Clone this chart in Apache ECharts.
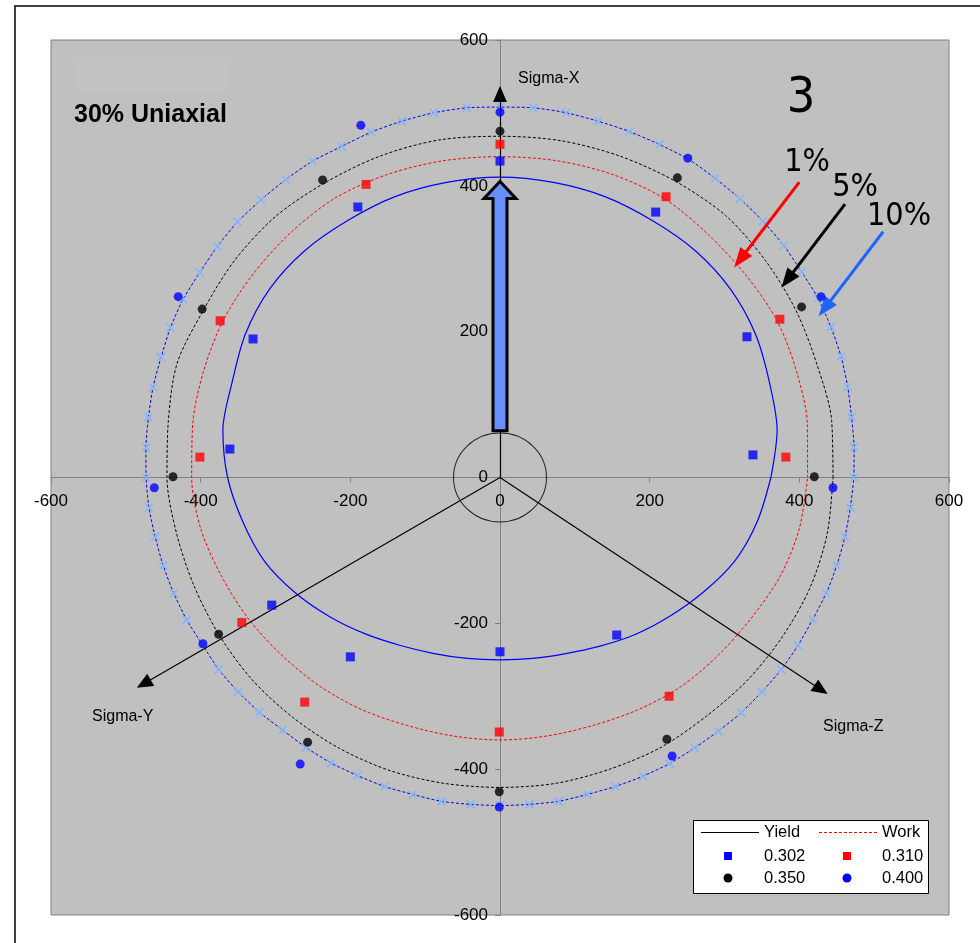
<!DOCTYPE html>
<html><head><meta charset="utf-8">
<script src="https://cdn.jsdelivr.net/npm/echarts@6/dist/echarts.min.js"></script>
<style>html,body{margin:0;padding:0;background:#fff}#c{width:980px;height:943px}</style>
</head><body><div id="c"></div>
<script>
// ---------- data ----------
const axisMin = -600, axisMax = 600, axisStep = 200;

// curve angles (degrees, counter-clockwise from +x) and radii
const angles10 = [0,10,20,30,40,50,60,70,80,90,100,110,120,130,140,150,160,170,180,190,200,210,220,230,240,250,260,270,280,290,300,310,320,330,340,350];
const yieldR   = [362,376,383,394,402,406,407,410,411,412,411,410,407,406,402,393,381,376,364,349,335,316,297,280,266,257,252,250,252,257,267,281,296,314,334,349];
const workR    = [411,417,422,428,430,434,441,442,441,440,441,442,442,437,432,428,422,417,412,406,396,388,380,374,368,362,360,360,360,362,368,375,380,387,398,406];
const pct5R    = [445,450,451,457,463,469,469,469,469,468,470,469,467,467,463,458,459,450,445,439,435,433,432,430,429,428,426,425,426,426,428,428,432,436,441,444];
const angles5  = [0,5,10,15,20,25,30,35,40,45,50,55,60,65,70,75,80,85,90,95,100,105,110,115,120,125,130,135,140,145,150,155,160,165,170,175,180,185,190,195,200,205,210,215,220,225,230,235,240,245,250,255,260,265,270,275,280,285,290,295,300,305,310,315,320,325,330,335,340,345,350,355];
const pct10R   = [473,475,477,481,485,488,491,492,495,497,499,501,504,504,505,506,508,509,508,509,508,506,504,501,501,499,497,496,493,490,489,486,482,480,477,475,473,471,468,466,464,462,459,459,457,455,452,452,452,451,451,450,451,450,450,450,451,450,451,452,453,453,454,456,457,459,460,461,464,466,468,470];

// measured points [x, y]
const s302 = [[0,434],[-190,371],[208,364],[330,193],[338,31],[-330,190],[-361,39],[-305,-175],[-200,-246],[0,-239],[156,-216]];
const s310 = [[0,457],[-179,402],[222,385],[374,217],[382,28],[-374,215],[-401,28],[-345,-199],[-261,-308],[-1,-349],[226,-300]];
const s350 = [[0,475],[-237,408],[237,411],[403,234],[420,1],[-398,231],[-437,1],[-376,-215],[-257,-363],[-1,-431],[223,-359]];
const s400 = [[0,501],[-186,483],[251,438],[429,248],[445,-14],[-430,248],[-462,-14],[-397,-228],[-267,-393],[-1,-452],[230,-382]];

// annotations (data coordinates)
const origin = [0,0];
const sigmaX = [0,526], sigmaY = [-476,-283], sigmaZ = [429,-291];
const loadArrow = [[0, 64, 406]];          // x, base y, tip y
const hydroCircle = [[0,0]];
const arrow1Start = [400,405], arrow1End = [321,299];
const arrow5Start = [461,375], arrow5End = [384,271];
const arrow10Start = [512,337], arrow10End = [434,232];

// ---------- build ----------
function toXY(angles, radii){
  const pts = angles.map((a,i)=>[radii[i]*Math.cos(a*Math.PI/180), radii[i]*Math.sin(a*Math.PI/180)]);
  pts.push(pts[0].slice());
  return pts;
}
const FONT = '"Liberation Sans", Arial, sans-serif';
const NARROW = '"Liberation Sans Narrow", "DejaVu Sans Condensed", "Liberation Sans", sans-serif';
const LEG = '16.5px ' + FONT;

function arrowSeries(from, to, color, width, size){
  return {
    type:'line', data:[], silent:true, z:6,
    markLine:{
      silent:true, animation:false,
      symbol:['none','triangle'], symbolSize:size,
      label:{show:false},
      lineStyle:{color:color, width:width, type:'solid'},
      itemStyle:{color:color},
      emphasis:{disabled:true},
      data:[[{coord:from},{coord:to}]]
    }
  };
}

const GRID = {left:51, top:40, width:898, height:875};
const chart = echarts.init(document.getElementById('c'));
chart.setOption({
  animation:false,
  backgroundColor:'#fff',
  grid:Object.assign({show:true, backgroundColor:'#C0C0C0', borderColor:'#808080', borderWidth:1}, GRID),
  xAxis:{type:'value', min:axisMin, max:axisMax, interval:axisStep, position:'bottom',
    offset:-GRID.height/2,
    axisLine:{onZero:false, lineStyle:{color:'#808080', width:1}},
    axisTick:{show:true, length:5, lineStyle:{color:'#808080'}},
    axisLabel:{fontSize:17, color:'#000', margin:15, fontFamily:FONT},
    splitLine:{show:false}},
  yAxis:{type:'value', min:axisMin, max:axisMax, interval:axisStep, position:'left',
    offset:-GRID.width/2,
    axisLine:{onZero:false, lineStyle:{color:'#808080', width:1}},
    axisTick:{show:true, length:5, lineStyle:{color:'#808080'}},
    axisLabel:{fontSize:17, color:'#000', margin:12, fontFamily:FONT},
    splitLine:{show:false}},
  graphic:[
    {type:'rect', z:-10, shape:{x:15, y:6, width:1000, height:1000}, style:{fill:'none', stroke:'#000', lineWidth:1.5}},
    {type:'rect', z:1, shape:{x:76, y:63, width:152, height:30}, style:{fill:'#C2C2C2'}},
    {type:'text', z:50, x:74, y:115, style:{text:'30% Uniaxial', font:'bold 25px '+FONT, fill:'#000', align:'left', verticalAlign:'middle'}},
    {type:'text', z:50, x:801, y:99, style:{text:'3', font:'50px '+NARROW, fill:'#000', align:'center', verticalAlign:'middle'}},
    {type:'text', z:50, x:807, y:163, style:{text:'1%', font:'32px '+NARROW, fill:'#000', align:'center', verticalAlign:'middle'}},
    {type:'text', z:50, x:855, y:188, style:{text:'5%', font:'32px '+NARROW, fill:'#000', align:'center', verticalAlign:'middle'}},
    {type:'text', z:50, x:899, y:217, style:{text:'10%', font:'32px '+NARROW, fill:'#000', align:'center', verticalAlign:'middle'}},
    {type:'text', z:50, x:518, y:79, style:{text:'Sigma-X', font:'16px '+FONT, fill:'#000', align:'left', verticalAlign:'middle'}},
    {type:'text', z:50, x:92, y:717, style:{text:'Sigma-Y', font:'16px '+FONT, fill:'#000', align:'left', verticalAlign:'middle'}},
    {type:'text', z:50, x:823, y:727, style:{text:'Sigma-Z', font:'16px '+FONT, fill:'#000', align:'left', verticalAlign:'middle'}},
    // legend
    {type:'rect', z:100, shape:{x:693.5, y:820.5, width:235, height:73}, style:{fill:'#fff', stroke:'#000', lineWidth:1}},
    {type:'line', z:101, shape:{x1:701, y1:832.5, x2:759, y2:832.5}, style:{stroke:'#000', lineWidth:1}},
    {type:'text', z:101, x:764, y:832, style:{text:'Yield', font:LEG, fill:'#000', align:'left', verticalAlign:'middle'}},
    {type:'line', z:101, shape:{x1:819, y1:832.5, x2:877, y2:832.5}, style:{stroke:'#FF0000', lineWidth:1, lineDash:[3,2]}},
    {type:'text', z:101, x:882, y:832, style:{text:'Work', font:LEG, fill:'#000', align:'left', verticalAlign:'middle'}},
    {type:'rect', z:101, shape:{x:724, y:852, width:8, height:8}, style:{fill:'#0000FF'}},
    {type:'text', z:101, x:764, y:856, style:{text:'0.302', font:LEG, fill:'#000', align:'left', verticalAlign:'middle'}},
    {type:'rect', z:101, shape:{x:843, y:852, width:8, height:8}, style:{fill:'#FF0000'}},
    {type:'text', z:101, x:882, y:856, style:{text:'0.310', font:LEG, fill:'#000', align:'left', verticalAlign:'middle'}},
    {type:'circle', z:101, shape:{cx:728, cy:878, r:4.5}, style:{fill:'#000'}},
    {type:'text', z:101, x:764, y:878, style:{text:'0.350', font:LEG, fill:'#000', align:'left', verticalAlign:'middle'}},
    {type:'circle', z:101, shape:{cx:847, cy:878, r:4.5}, style:{fill:'#0000FF'}},
    {type:'text', z:101, x:882, y:878, style:{text:'0.400', font:LEG, fill:'#000', align:'left', verticalAlign:'middle'}}
  ],
  series:[
    {name:'Yield', type:'line', data:toXY(angles10, yieldR), showSymbol:false, symbol:'none', smooth:0.3, z:3,
      lineStyle:{color:'#0000FF', width:1.2}},
    {name:'Work', type:'line', data:toXY(angles10, workR), showSymbol:false, symbol:'none', smooth:0.3, z:3,
      lineStyle:{color:'#FF0000', width:1, type:[3,2]}},
    {name:'5%', type:'line', data:toXY(angles10, pct5R), showSymbol:false, symbol:'none', smooth:0.3, z:3,
      lineStyle:{color:'#000000', width:1, type:[3,2]}},
    {name:'10%', type:'line', data:toXY(angles5, pct10R), showSymbol:false, symbol:'none', smooth:0.2, z:3,
      lineStyle:{color:'#0000FF', width:1, type:[3,2]}},
    {name:'10% pts', type:'scatter', data:toXY(angles5, pct10R).slice(0, angles5.length), z:4, silent:true,
      symbol:'path://M0,0L10,10M10,0L0,10', symbolSize:8,
      itemStyle:{color:'rgba(0,0,0,0)', borderColor:'#80B4FF', borderWidth:1.5, opacity:1}},
    {name:'hydro', type:'scatter', data:hydroCircle, symbol:'circle', symbolSize:[93,89], z:4, silent:true,
      itemStyle:{color:'rgba(0,0,0,0)', borderColor:'#000', borderWidth:1}},
    {name:'load', type:'custom', data:loadArrow, z:5, silent:true, encode:{x:0, y:1},
      renderItem:function(params, api){
        const base = api.coord([api.value(0), api.value(1)]);
        const tip = api.coord([api.value(0), api.value(2)]);
        const sw = 7, hw = 16, hh = 17;
        return {type:'polygon', shape:{points:[
          [base[0]-sw, base[1]], [base[0]-sw, tip[1]+hh], [base[0]-hw, tip[1]+hh], [tip[0], tip[1]],
          [base[0]+hw, tip[1]+hh], [base[0]+sw, tip[1]+hh], [base[0]+sw, base[1]]]},
          style:{fill:'#6690FF', stroke:'#000', lineWidth:3, lineJoin:'miter'}};
      }},
    arrowSeries(origin, sigmaX, '#000', 1.2, [14,16]),
    arrowSeries(origin, sigmaY, '#000', 1.2, [14,16]),
    arrowSeries(origin, sigmaZ, '#000', 1.2, [14,16]),
    arrowSeries(arrow1Start, arrow1End, '#FF0000', 3, [15,20]),
    arrowSeries(arrow5Start, arrow5End, '#000000', 3, [15,20]),
    arrowSeries(arrow10Start, arrow10End, '#1E64FF', 3, [15,20]),
    {name:'0.302', type:'scatter', data:s302, symbol:'rect', symbolSize:9, z:8, itemStyle:{color:'#0000FF'}},
    {name:'0.310', type:'scatter', data:s310, symbol:'rect', symbolSize:9, z:8, itemStyle:{color:'#FF0000'}},
    {name:'0.350', type:'scatter', data:s350, symbol:'circle', symbolSize:9, z:8, itemStyle:{color:'#000000'}},
    {name:'0.400', type:'scatter', data:s400, symbol:'circle', symbolSize:9, z:8, itemStyle:{color:'#0000FF'}}
  ]
});
</script>
</body></html>
